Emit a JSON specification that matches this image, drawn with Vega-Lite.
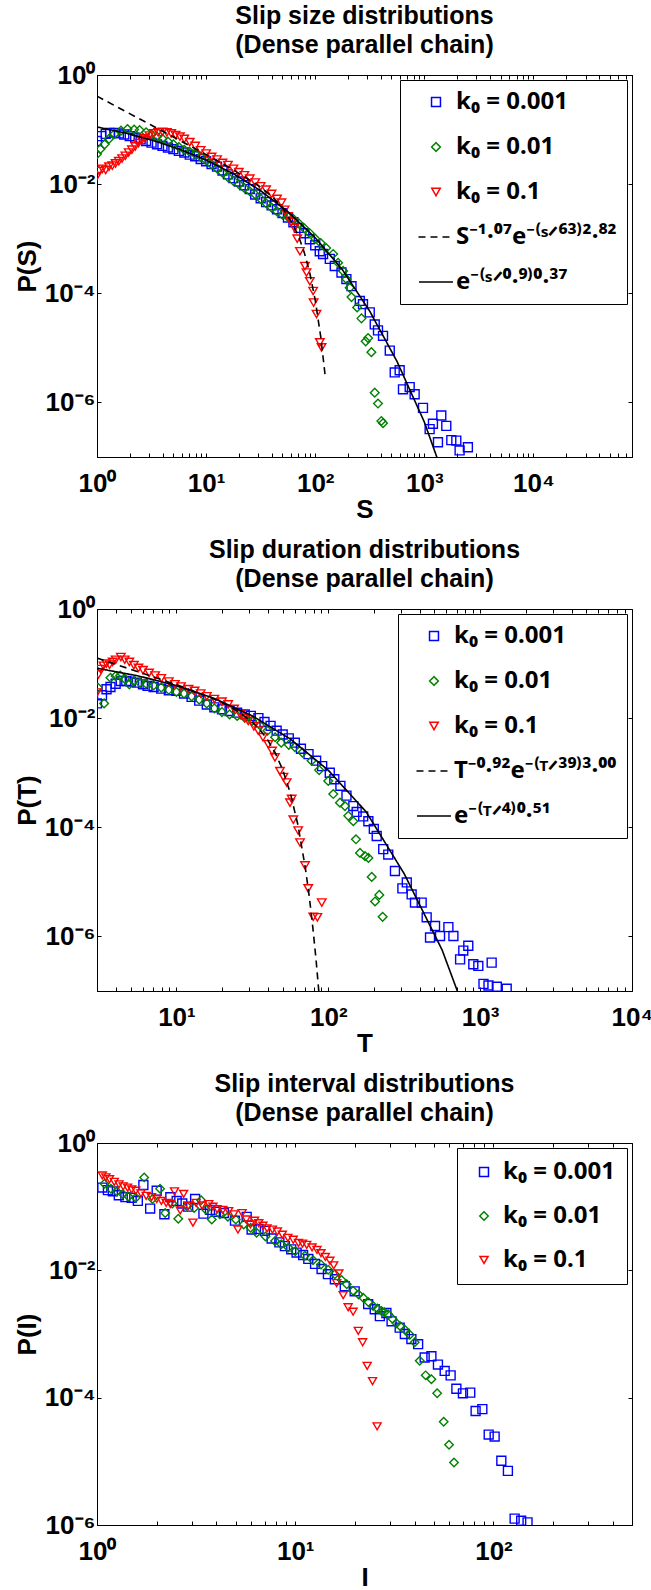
{
"$schema": "https://vega.github.io/schema/vega-lite/v6.json",
"background": "white",
"padding": {"left": 13, "right": 0, "top": 3, "bottom": 0},
"spacing": 14,
"resolve": {"scale": {"color": "independent", "shape": "independent", "size": "independent", "strokeDash": "independent"}},
"config": {
  "font": "Liberation Sans",
  "view": {"stroke": "#000", "strokeWidth": 1},
  "title": {"fontSize": 25, "font": "Liberation Sans", "fontWeight": "bold", "color": "#000", "lineHeight": 29, "offset": 4},
  "axis": {"labelFont": "Liberation Sans", "labelFontSize": 26, "labelFontWeight": "bold", "labelColor": "#000", "titleFont": "Liberation Sans", "titleFontSize": 26, "titleFontWeight": "bold", "titleColor": "#000", "domainColor": "#000", "tickColor": "#000", "grid": false, "labelFlush": false, "labelOverlap": false, "tickSize": -4},
  "axisX": {"labelPadding": 17, "titlePadding": 0},
  "axisY": {"labelPadding": 6, "titlePadding": 4},
  "legend": {"labelFont": "Noto Sans", "labelFontSize": 24, "labelFontWeight": "bold", "labelColor": "#000", "strokeColor": "#000", "fillColor": "#fff", "padding": 10, "rowPadding": 21, "labelOffset": 8, "symbolOffset": 14, "symbolSize": 80, "symbolStrokeWidth": 1.5, "orient": "top-right", "offset": 5, "labelLimit": 400}
},
"datasets": {
"p1pts": [
{"k":"k₀ = 0.001","S":1,"P":0.0617},{"k":"k₀ = 0.001","S":1.096,"P":0.0759},{"k":"k₀ = 0.001","S":1.202,"P":0.0832},{"k":"k₀ = 0.001","S":1.318,"P":0.0871},{"k":"k₀ = 0.001","S":1.445,"P":0.0871},{"k":"k₀ = 0.001","S":1.585,"P":0.0851},{"k":"k₀ = 0.001","S":1.778,"P":0.0813},{"k":"k₀ = 0.001","S":1.995,"P":0.0759},{"k":"k₀ = 0.001","S":2.239,"P":0.0708},{"k":"k₀ = 0.001","S":2.512,"P":0.0661},{"k":"k₀ = 0.001","S":2.818,"P":0.0617},{"k":"k₀ = 0.001","S":3.162,"P":0.0575},{"k":"k₀ = 0.001","S":3.548,"P":0.0537},{"k":"k₀ = 0.001","S":3.981,"P":0.0501},{"k":"k₀ = 0.001","S":4.467,"P":0.0468},{"k":"k₀ = 0.001","S":5.012,"P":0.0437},{"k":"k₀ = 0.001","S":5.623,"P":0.0407},{"k":"k₀ = 0.001","S":6.31,"P":0.038},{"k":"k₀ = 0.001","S":7.079,"P":0.0347},{"k":"k₀ = 0.001","S":7.943,"P":0.0324},{"k":"k₀ = 0.001","S":8.913,"P":0.0288},{"k":"k₀ = 0.001","S":10,"P":0.0263},{"k":"k₀ = 0.001","S":11.22,"P":0.0234},{"k":"k₀ = 0.001","S":12.59,"P":0.0209},{"k":"k₀ = 0.001","S":14.13,"P":0.0178},{"k":"k₀ = 0.001","S":15.85,"P":0.0151},{"k":"k₀ = 0.001","S":17.78,"P":0.0129},{"k":"k₀ = 0.001","S":19.95,"P":0.0112},{"k":"k₀ = 0.001","S":22.39,"P":0.00955},{"k":"k₀ = 0.001","S":25.12,"P":0.00813},{"k":"k₀ = 0.001","S":28.18,"P":0.00646},{"k":"k₀ = 0.001","S":31.62,"P":0.0055},{"k":"k₀ = 0.001","S":35.48,"P":0.00468},{"k":"k₀ = 0.001","S":39.81,"P":0.00407},{"k":"k₀ = 0.001","S":44.67,"P":0.00347},{"k":"k₀ = 0.001","S":50.12,"P":0.00295},{"k":"k₀ = 0.001","S":56.23,"P":0.00245},{"k":"k₀ = 0.001","S":63.1,"P":0.002},{"k":"k₀ = 0.001","S":70.79,"P":0.00158},{"k":"k₀ = 0.001","S":79.43,"P":0.00126},{"k":"k₀ = 0.001","S":89.13,"P":0.000977},{"k":"k₀ = 0.001","S":100,"P":0.000759},{"k":"k₀ = 0.001","S":110,"P":0.000589},{"k":"k₀ = 0.001","S":118,"P":0.000525},{"k":"k₀ = 0.001","S":136,"P":0.000427},{"k":"k₀ = 0.001","S":151,"P":0.000316},{"k":"k₀ = 0.001","S":174,"P":0.00024},{"k":"k₀ = 0.001","S":193,"P":0.000182},{"k":"k₀ = 0.001","S":215,"P":0.000135},{"k":"k₀ = 0.001","S":256,"P":7.24e-5},{"k":"k₀ = 0.001","S":274,"P":6.31e-5},{"k":"k₀ = 0.001","S":316,"P":4.47e-5},{"k":"k₀ = 0.001","S":351,"P":2.69e-5},{"k":"k₀ = 0.001","S":376,"P":2.09e-5},{"k":"k₀ = 0.001","S":418,"P":1.66e-5},{"k":"k₀ = 0.001","S":482,"P":8.91e-6},{"k":"k₀ = 0.001","S":535,"P":3.55e-6},{"k":"k₀ = 0.001","S":594,"P":3.89e-6},{"k":"k₀ = 0.001","S":637,"P":1.74e-6},{"k":"k₀ = 0.001","S":734,"P":1.91e-6},{"k":"k₀ = 0.001","S":815,"P":1.41e-6},{"k":"k₀ = 0.001","S":972,"P":7.94e-7},{"k":"k₀ = 0.001","S":1118,"P":3.24e-7},{"k":"k₀ = 0.001","S":1199,"P":4.07e-7},{"k":"k₀ = 0.001","S":1430,"P":5.75e-7},{"k":"k₀ = 0.001","S":1589,"P":3.72e-7},{"k":"k₀ = 0.001","S":1333,"P":1.86e-7},{"k":"k₀ = 0.001","S":1766,"P":2.04e-7},{"k":"k₀ = 0.001","S":1963,"P":2.0e-7},{"k":"k₀ = 0.001","S":2104,"P":1.32e-7},{"k":"k₀ = 0.001","S":2507,"P":1.51e-7},
{"k":"k₀ = 0.01","S":1,"P":0.0355},{"k":"k₀ = 0.01","S":1.072,"P":0.0437},{"k":"k₀ = 0.01","S":1.175,"P":0.0537},{"k":"k₀ = 0.01","S":1.288,"P":0.0676},{"k":"k₀ = 0.01","S":1.445,"P":0.0832},{"k":"k₀ = 0.01","S":1.66,"P":0.0955},{"k":"k₀ = 0.01","S":1.905,"P":0.102},{"k":"k₀ = 0.01","S":2.188,"P":0.1},{"k":"k₀ = 0.01","S":2.455,"P":0.0977},{"k":"k₀ = 0.01","S":2.818,"P":0.0891},{"k":"k₀ = 0.01","S":3.162,"P":0.0813},{"k":"k₀ = 0.01","S":3.548,"P":0.0741},{"k":"k₀ = 0.01","S":3.981,"P":0.0676},{"k":"k₀ = 0.01","S":4.467,"P":0.0603},{"k":"k₀ = 0.01","S":5.012,"P":0.0537},{"k":"k₀ = 0.01","S":5.623,"P":0.0479},{"k":"k₀ = 0.01","S":6.31,"P":0.0427},{"k":"k₀ = 0.01","S":7.079,"P":0.0389},{"k":"k₀ = 0.01","S":7.943,"P":0.0355},{"k":"k₀ = 0.01","S":8.913,"P":0.0316},{"k":"k₀ = 0.01","S":10,"P":0.0275},{"k":"k₀ = 0.01","S":11.22,"P":0.0229},{"k":"k₀ = 0.01","S":12.59,"P":0.0195},{"k":"k₀ = 0.01","S":14.13,"P":0.0162},{"k":"k₀ = 0.01","S":15.85,"P":0.0135},{"k":"k₀ = 0.01","S":17.78,"P":0.0115},{"k":"k₀ = 0.01","S":19.95,"P":0.01},{"k":"k₀ = 0.01","S":22.39,"P":0.00851},{"k":"k₀ = 0.01","S":25.12,"P":0.00741},{"k":"k₀ = 0.01","S":28.18,"P":0.00646},{"k":"k₀ = 0.01","S":31.62,"P":0.00537},{"k":"k₀ = 0.01","S":35.48,"P":0.00447},{"k":"k₀ = 0.01","S":39.81,"P":0.00372},{"k":"k₀ = 0.01","S":44.67,"P":0.00316},{"k":"k₀ = 0.01","S":50.12,"P":0.00275},{"k":"k₀ = 0.01","S":56.23,"P":0.00251},{"k":"k₀ = 0.01","S":63.1,"P":0.00229},{"k":"k₀ = 0.01","S":70.79,"P":0.00191},{"k":"k₀ = 0.01","S":79.43,"P":0.00155},{"k":"k₀ = 0.01","S":89.13,"P":0.00126},{"k":"k₀ = 0.01","S":100,"P":0.001},{"k":"k₀ = 0.01","S":112.2,"P":0.000832},{"k":"k₀ = 0.01","S":125.9,"P":0.000676},{"k":"k₀ = 0.01","S":146,"P":0.000525},{"k":"k₀ = 0.01","S":162,"P":0.000363},{"k":"k₀ = 0.01","S":180,"P":0.000257},{"k":"k₀ = 0.01","S":193,"P":0.000182},{"k":"k₀ = 0.01","S":207,"P":0.000126},{"k":"k₀ = 0.01","S":215,"P":8.51e-5},{"k":"k₀ = 0.01","S":242,"P":5.5e-5},{"k":"k₀ = 0.01","S":265,"P":3.47e-5},{"k":"k₀ = 0.01","S":290,"P":1.32e-5},{"k":"k₀ = 0.01","S":305,"P":1.51e-5},{"k":"k₀ = 0.01","S":327,"P":8.32e-6},{"k":"k₀ = 0.01","S":351,"P":1.51e-6},{"k":"k₀ = 0.01","S":376,"P":9.55e-7},{"k":"k₀ = 0.01","S":404,"P":4.57e-7},{"k":"k₀ = 0.01","S":418,"P":4.17e-7},
{"k":"k₀ = 0.1","S":1,"P":0.0141},{"k":"k₀ = 0.1","S":1.047,"P":0.0174},{"k":"k₀ = 0.1","S":1.122,"P":0.0191},{"k":"k₀ = 0.1","S":1.202,"P":0.0182},{"k":"k₀ = 0.1","S":1.288,"P":0.0209},{"k":"k₀ = 0.1","S":1.38,"P":0.0219},{"k":"k₀ = 0.1","S":1.479,"P":0.024},{"k":"k₀ = 0.1","S":1.585,"P":0.0263},{"k":"k₀ = 0.1","S":1.698,"P":0.0295},{"k":"k₀ = 0.1","S":1.82,"P":0.0331},{"k":"k₀ = 0.1","S":1.95,"P":0.038},{"k":"k₀ = 0.1","S":2.089,"P":0.0427},{"k":"k₀ = 0.1","S":2.239,"P":0.049},{"k":"k₀ = 0.1","S":2.399,"P":0.0562},{"k":"k₀ = 0.1","S":2.57,"P":0.0631},{"k":"k₀ = 0.1","S":2.754,"P":0.0692},{"k":"k₀ = 0.1","S":3.02,"P":0.0776},{"k":"k₀ = 0.1","S":3.311,"P":0.0851},{"k":"k₀ = 0.1","S":3.631,"P":0.0891},{"k":"k₀ = 0.1","S":3.981,"P":0.0912},{"k":"k₀ = 0.1","S":4.365,"P":0.0891},{"k":"k₀ = 0.1","S":4.786,"P":0.0851},{"k":"k₀ = 0.1","S":5.248,"P":0.0794},{"k":"k₀ = 0.1","S":5.754,"P":0.0741},{"k":"k₀ = 0.1","S":6.31,"P":0.0676},{"k":"k₀ = 0.1","S":7.079,"P":0.0589},{"k":"k₀ = 0.1","S":7.943,"P":0.0501},{"k":"k₀ = 0.1","S":8.913,"P":0.0417},{"k":"k₀ = 0.1","S":10,"P":0.0363},{"k":"k₀ = 0.1","S":11.22,"P":0.0316},{"k":"k₀ = 0.1","S":12.59,"P":0.0282},{"k":"k₀ = 0.1","S":14.13,"P":0.0245},{"k":"k₀ = 0.1","S":15.85,"P":0.0224},{"k":"k₀ = 0.1","S":17.78,"P":0.0191},{"k":"k₀ = 0.1","S":19.95,"P":0.0166},{"k":"k₀ = 0.1","S":22.39,"P":0.0145},{"k":"k₀ = 0.1","S":25.12,"P":0.0126},{"k":"k₀ = 0.1","S":28.18,"P":0.0107},{"k":"k₀ = 0.1","S":31.62,"P":0.00912},{"k":"k₀ = 0.1","S":35.48,"P":0.00794},{"k":"k₀ = 0.1","S":39.81,"P":0.00661},{"k":"k₀ = 0.1","S":44.67,"P":0.00537},{"k":"k₀ = 0.1","S":48.98,"P":0.00457},{"k":"k₀ = 0.1","S":52.48,"P":0.00339},{"k":"k₀ = 0.1","S":56.23,"P":0.00257},{"k":"k₀ = 0.1","S":60.26,"P":0.002},{"k":"k₀ = 0.1","S":64.57,"P":0.00158},{"k":"k₀ = 0.1","S":68.4,"P":0.001},{"k":"k₀ = 0.1","S":72.4,"P":0.000589},{"k":"k₀ = 0.1","S":80.4,"P":0.000316},{"k":"k₀ = 0.1","S":83.2,"P":0.00024},{"k":"k₀ = 0.1","S":89.3,"P":0.000166},{"k":"k₀ = 0.1","S":95.7,"P":0.00011},{"k":"k₀ = 0.1","S":96.6,"P":6.76e-5},{"k":"k₀ = 0.1","S":102.8,"P":4.17e-5},{"k":"k₀ = 0.1","S":110.2,"P":1.26e-5},{"k":"k₀ = 0.1","S":114.3,"P":1.02e-5}
],
"p1fit": [
{"k":"S⁻¹·⁰⁷e⁻⁽ˢᐟ⁶³⁾²·⁸²","S":1,"P":0.41},{"k":"S⁻¹·⁰⁷e⁻⁽ˢᐟ⁶³⁾²·⁸²","S":1.778,"P":0.221},{"k":"S⁻¹·⁰⁷e⁻⁽ˢᐟ⁶³⁾²·⁸²","S":3.162,"P":0.12},{"k":"S⁻¹·⁰⁷e⁻⁽ˢᐟ⁶³⁾²·⁸²","S":5.623,"P":0.0646},{"k":"S⁻¹·⁰⁷e⁻⁽ˢᐟ⁶³⁾²·⁸²","S":10,"P":0.0348},{"k":"S⁻¹·⁰⁷e⁻⁽ˢᐟ⁶³⁾²·⁸²","S":17.78,"P":0.0183},{"k":"S⁻¹·⁰⁷e⁻⁽ˢᐟ⁶³⁾²·⁸²","S":31.62,"P":0.00883},{"k":"S⁻¹·⁰⁷e⁻⁽ˢᐟ⁶³⁾²·⁸²","S":39.81,"P":0.00605},{"k":"S⁻¹·⁰⁷e⁻⁽ˢᐟ⁶³⁾²·⁸²","S":50.12,"P":0.00368},{"k":"S⁻¹·⁰⁷e⁻⁽ˢᐟ⁶³⁾²·⁸²","S":63.1,"P":0.00178},{"k":"S⁻¹·⁰⁷e⁻⁽ˢᐟ⁶³⁾²·⁸²","S":70.79,"P":0.00107},{"k":"S⁻¹·⁰⁷e⁻⁽ˢᐟ⁶³⁾²·⁸²","S":79.43,"P":0.000556},{"k":"S⁻¹·⁰⁷e⁻⁽ˢᐟ⁶³⁾²·⁸²","S":89.13,"P":0.000235},{"k":"S⁻¹·⁰⁷e⁻⁽ˢᐟ⁶³⁾²·⁸²","S":100,"P":7.5e-5},{"k":"S⁻¹·⁰⁷e⁻⁽ˢᐟ⁶³⁾²·⁸²","S":112.2,"P":1.62e-5},{"k":"S⁻¹·⁰⁷e⁻⁽ˢᐟ⁶³⁾²·⁸²","S":123,"P":3.24e-6},
{"k":"e⁻⁽ˢᐟ⁰·⁹⁾⁰·³⁷","S":1,"P":0.1117},{"k":"e⁻⁽ˢᐟ⁰·⁹⁾⁰·³⁷","S":1.778,"P":0.0873},{"k":"e⁻⁽ˢᐟ⁰·⁹⁾⁰·³⁷","S":3.162,"P":0.0644},{"k":"e⁻⁽ˢᐟ⁰·⁹⁾⁰·³⁷","S":5.623,"P":0.0441},{"k":"e⁻⁽ˢᐟ⁰·⁹⁾⁰·³⁷","S":10,"P":0.0276},{"k":"e⁻⁽ˢᐟ⁰·⁹⁾⁰·³⁷","S":17.78,"P":0.0155},{"k":"e⁻⁽ˢᐟ⁰·⁹⁾⁰·³⁷","S":31.62,"P":0.00757},{"k":"e⁻⁽ˢᐟ⁰·⁹⁾⁰·³⁷","S":56.23,"P":0.00312},{"k":"e⁻⁽ˢᐟ⁰·⁹⁾⁰·³⁷","S":100,"P":0.00104},{"k":"e⁻⁽ˢᐟ⁰·⁹⁾⁰·³⁷","S":177.8,"P":0.000269},{"k":"e⁻⁽ˢᐟ⁰·⁹⁾⁰·³⁷","S":316.2,"P":4.68e-5},{"k":"e⁻⁽ˢᐟ⁰·⁹⁾⁰·³⁷","S":562.3,"P":5.62e-6},{"k":"e⁻⁽ˢᐟ⁰·⁹⁾⁰·³⁷","S":1000,"P":4.37e-7},{"k":"e⁻⁽ˢᐟ⁰·⁹⁾⁰·³⁷","S":1259,"P":1.2e-7},{"k":"e⁻⁽ˢᐟ⁰·⁹⁾⁰·³⁷","S":1413,"P":6.3e-8}
],
"p2pts": [
{"k":"k₀ = 0.001","T":3,"P":0.0186},{"k":"k₀ = 0.001","T":3.236,"P":0.0263},{"k":"k₀ = 0.001","T":3.467,"P":0.0339},{"k":"k₀ = 0.001","T":3.68,"P":0.0372},{"k":"k₀ = 0.001","T":3.981,"P":0.0427},{"k":"k₀ = 0.001","T":4.305,"P":0.0479},{"k":"k₀ = 0.001","T":4.677,"P":0.0479},{"k":"k₀ = 0.001","T":5.012,"P":0.0468},{"k":"k₀ = 0.001","T":5.495,"P":0.0447},{"k":"k₀ = 0.001","T":6.026,"P":0.0417},{"k":"k₀ = 0.001","T":6.457,"P":0.0389},{"k":"k₀ = 0.001","T":7.079,"P":0.0372},{"k":"k₀ = 0.001","T":7.943,"P":0.0347},{"k":"k₀ = 0.001","T":8.913,"P":0.0324},{"k":"k₀ = 0.001","T":10,"P":0.0316},{"k":"k₀ = 0.001","T":11.22,"P":0.0282},{"k":"k₀ = 0.001","T":12.59,"P":0.0245},{"k":"k₀ = 0.001","T":14.13,"P":0.0209},{"k":"k₀ = 0.001","T":15.85,"P":0.0178},{"k":"k₀ = 0.001","T":17.78,"P":0.0158},{"k":"k₀ = 0.001","T":19.95,"P":0.0145},{"k":"k₀ = 0.001","T":22.39,"P":0.0135},{"k":"k₀ = 0.001","T":25.12,"P":0.0126},{"k":"k₀ = 0.001","T":28.18,"P":0.0117},{"k":"k₀ = 0.001","T":30.9,"P":0.011},{"k":"k₀ = 0.001","T":34.67,"P":0.01},{"k":"k₀ = 0.001","T":38.02,"P":0.00851},{"k":"k₀ = 0.001","T":41.69,"P":0.00724},{"k":"k₀ = 0.001","T":45.71,"P":0.00589},{"k":"k₀ = 0.001","T":50.12,"P":0.00501},{"k":"k₀ = 0.001","T":54.95,"P":0.00427},{"k":"k₀ = 0.001","T":60.26,"P":0.00355},{"k":"k₀ = 0.001","T":66.07,"P":0.00275},{"k":"k₀ = 0.001","T":74.13,"P":0.00219},{"k":"k₀ = 0.001","T":83.18,"P":0.00166},{"k":"k₀ = 0.001","T":91.2,"P":0.00132},{"k":"k₀ = 0.001","T":102.3,"P":0.001},{"k":"k₀ = 0.001","T":109.6,"P":0.000759},{"k":"k₀ = 0.001","T":120.2,"P":0.000575},{"k":"k₀ = 0.001","T":131.8,"P":0.00038},{"k":"k₀ = 0.001","T":146.2,"P":0.000245},{"k":"k₀ = 0.001","T":153.8,"P":0.000191},{"k":"k₀ = 0.001","T":169.8,"P":0.000158},{"k":"k₀ = 0.001","T":183.7,"P":0.000129},{"k":"k₀ = 0.001","T":199.5,"P":9.33e-5},{"k":"k₀ = 0.001","T":208.4,"P":6.92e-5},{"k":"k₀ = 0.001","T":230.1,"P":3.98e-5},{"k":"k₀ = 0.001","T":248.3,"P":3.16e-5},{"k":"k₀ = 0.001","T":274.8,"P":1.58e-5},{"k":"k₀ = 0.001","T":307.6,"P":7.59e-6},{"k":"k₀ = 0.001","T":328.9,"P":9.77e-6},{"k":"k₀ = 0.001","T":354,"P":5.89e-6},{"k":"k₀ = 0.001","T":372.4,"P":4.17e-6},{"k":"k₀ = 0.001","T":412.1,"P":4.17e-6},{"k":"k₀ = 0.001","T":444.6,"P":2.24e-6},{"k":"k₀ = 0.001","T":467.7,"P":9.55e-7},{"k":"k₀ = 0.001","T":504.7,"P":1.55e-6},{"k":"k₀ = 0.001","T":544.5,"P":1.02e-6},{"k":"k₀ = 0.001","T":618,"P":1.48e-6},{"k":"k₀ = 0.001","T":666.8,"P":1.02e-6},{"k":"k₀ = 0.001","T":737.9,"P":3.8e-7},{"k":"k₀ = 0.001","T":774.5,"P":5.5e-7},{"k":"k₀ = 0.001","T":835.6,"P":6.76e-7},{"k":"k₀ = 0.001","T":901.6,"P":3.09e-7},{"k":"k₀ = 0.001","T":972.7,"P":2.88e-7},{"k":"k₀ = 0.001","T":1052,"P":1.35e-7},{"k":"k₀ = 0.001","T":1135,"P":1.26e-7},{"k":"k₀ = 0.001","T":1191,"P":3.31e-7},{"k":"k₀ = 0.001","T":1288,"P":1.2e-7},{"k":"k₀ = 0.001","T":1496,"P":1.1e-7},
{"k":"k₀ = 0.01","T":3.041,"P":0.0363},{"k":"k₀ = 0.01","T":3.342,"P":0.0186},{"k":"k₀ = 0.01","T":3.68,"P":0.055},{"k":"k₀ = 0.01","T":3.981,"P":0.0589},{"k":"k₀ = 0.01","T":4.266,"P":0.0603},{"k":"k₀ = 0.01","T":4.571,"P":0.0525},{"k":"k₀ = 0.01","T":4.898,"P":0.0417},{"k":"k₀ = 0.01","T":5.248,"P":0.0479},{"k":"k₀ = 0.01","T":5.754,"P":0.0447},{"k":"k₀ = 0.01","T":6.31,"P":0.0427},{"k":"k₀ = 0.01","T":7.079,"P":0.0398},{"k":"k₀ = 0.01","T":7.943,"P":0.0363},{"k":"k₀ = 0.01","T":8.913,"P":0.0331},{"k":"k₀ = 0.01","T":10,"P":0.0302},{"k":"k₀ = 0.01","T":11.22,"P":0.0282},{"k":"k₀ = 0.01","T":12.59,"P":0.0251},{"k":"k₀ = 0.01","T":14.13,"P":0.0219},{"k":"k₀ = 0.01","T":15.85,"P":0.0186},{"k":"k₀ = 0.01","T":17.78,"P":0.0151},{"k":"k₀ = 0.01","T":19.95,"P":0.0129},{"k":"k₀ = 0.01","T":22.39,"P":0.0117},{"k":"k₀ = 0.01","T":25.12,"P":0.011},{"k":"k₀ = 0.01","T":28.18,"P":0.0102},{"k":"k₀ = 0.01","T":31.62,"P":0.00891},{"k":"k₀ = 0.01","T":35.48,"P":0.00741},{"k":"k₀ = 0.01","T":39.81,"P":0.00589},{"k":"k₀ = 0.01","T":44.67,"P":0.00447},{"k":"k₀ = 0.01","T":48.98,"P":0.00355},{"k":"k₀ = 0.01","T":54.95,"P":0.00324},{"k":"k₀ = 0.01","T":60.26,"P":0.00295},{"k":"k₀ = 0.01","T":67.61,"P":0.00234},{"k":"k₀ = 0.01","T":77.62,"P":0.00166},{"k":"k₀ = 0.01","T":87.1,"P":0.00112},{"k":"k₀ = 0.01","T":100,"P":0.000708},{"k":"k₀ = 0.01","T":107.9,"P":0.000407},{"k":"k₀ = 0.01","T":119.4,"P":0.000282},{"k":"k₀ = 0.01","T":128.8,"P":0.000245},{"k":"k₀ = 0.01","T":135.5,"P":0.000162},{"k":"k₀ = 0.01","T":146.2,"P":0.000129},{"k":"k₀ = 0.01","T":152.1,"P":6.03e-5},{"k":"k₀ = 0.01","T":161.8,"P":3.39e-5},{"k":"k₀ = 0.01","T":174.6,"P":2.95e-5},{"k":"k₀ = 0.01","T":183.7,"P":2.75e-5},{"k":"k₀ = 0.01","T":193.2,"P":1.23e-5},{"k":"k₀ = 0.01","T":203.2,"P":4.37e-6},{"k":"k₀ = 0.01","T":216.8,"P":5.75e-6},{"k":"k₀ = 0.01","T":228,"P":2.29e-6},
{"k":"k₀ = 0.1","T":3,"P":0.0295},{"k":"k₀ = 0.1","T":3.069,"P":0.0631},{"k":"k₀ = 0.1","T":3.162,"P":0.0794},{"k":"k₀ = 0.1","T":3.311,"P":0.0912},{"k":"k₀ = 0.1","T":3.459,"P":0.1},{"k":"k₀ = 0.1","T":3.631,"P":0.0955},{"k":"k₀ = 0.1","T":3.802,"P":0.107},{"k":"k₀ = 0.1","T":3.981,"P":0.1175},{"k":"k₀ = 0.1","T":4.305,"P":0.1318},{"k":"k₀ = 0.1","T":4.571,"P":0.1175},{"k":"k₀ = 0.1","T":4.898,"P":0.107},{"k":"k₀ = 0.1","T":5.248,"P":0.0933},{"k":"k₀ = 0.1","T":5.623,"P":0.0832},{"k":"k₀ = 0.1","T":6.026,"P":0.0759},{"k":"k₀ = 0.1","T":6.607,"P":0.0676},{"k":"k₀ = 0.1","T":7.244,"P":0.0603},{"k":"k₀ = 0.1","T":7.943,"P":0.0537},{"k":"k₀ = 0.1","T":8.913,"P":0.0468},{"k":"k₀ = 0.1","T":9.772,"P":0.0417},{"k":"k₀ = 0.1","T":10.72,"P":0.038},{"k":"k₀ = 0.1","T":12.02,"P":0.0339},{"k":"k₀ = 0.1","T":13.18,"P":0.0316},{"k":"k₀ = 0.1","T":14.45,"P":0.0282},{"k":"k₀ = 0.1","T":15.85,"P":0.0251},{"k":"k₀ = 0.1","T":17.78,"P":0.0224},{"k":"k₀ = 0.1","T":19.95,"P":0.02},{"k":"k₀ = 0.1","T":21.93,"P":0.0178},{"k":"k₀ = 0.1","T":23.99,"P":0.0148},{"k":"k₀ = 0.1","T":26.3,"P":0.0117},{"k":"k₀ = 0.1","T":28.18,"P":0.01},{"k":"k₀ = 0.1","T":29.72,"P":0.00891},{"k":"k₀ = 0.1","T":32.36,"P":0.00708},{"k":"k₀ = 0.1","T":34.59,"P":0.00589},{"k":"k₀ = 0.1","T":37.15,"P":0.00447},{"k":"k₀ = 0.1","T":40.27,"P":0.00331},{"k":"k₀ = 0.1","T":42.66,"P":0.00251},{"k":"k₀ = 0.1","T":44.57,"P":0.00191},{"k":"k₀ = 0.1","T":48.08,"P":0.00107},{"k":"k₀ = 0.1","T":50.7,"P":0.000832},{"k":"k₀ = 0.1","T":53.21,"P":0.000661},{"k":"k₀ = 0.1","T":55.98,"P":0.000282},{"k":"k₀ = 0.1","T":57.41,"P":0.000331},{"k":"k₀ = 0.1","T":58.88,"P":0.000138},{"k":"k₀ = 0.1","T":63.39,"P":8.71e-5},{"k":"k₀ = 0.1","T":65.16,"P":5.25e-5},{"k":"k₀ = 0.1","T":70.31,"P":2.0e-5},{"k":"k₀ = 0.1","T":73.79,"P":7.59e-6},{"k":"k₀ = 0.1","T":79.62,"P":2.29e-6},{"k":"k₀ = 0.1","T":84.72,"P":2.24e-6},{"k":"k₀ = 0.1","T":90.57,"P":4.17e-6}
],
"p2fit": [
{"k":"T⁻⁰·⁹²e⁻⁽ᵀᐟ³⁹⁾³·⁰⁰","T":3,"P":0.1259},{"k":"T⁻⁰·⁹²e⁻⁽ᵀᐟ³⁹⁾³·⁰⁰","T":5.623,"P":0.0705},{"k":"T⁻⁰·⁹²e⁻⁽ᵀᐟ³⁹⁾³·⁰⁰","T":10,"P":0.0409},{"k":"T⁻⁰·⁹²e⁻⁽ᵀᐟ³⁹⁾³·⁰⁰","T":17.78,"P":0.0223},{"k":"T⁻⁰·⁹²e⁻⁽ᵀᐟ³⁹⁾³·⁰⁰","T":19.95,"P":0.0193},{"k":"T⁻⁰·⁹²e⁻⁽ᵀᐟ³⁹⁾³·⁰⁰","T":25.12,"P":0.01365},{"k":"T⁻⁰·⁹²e⁻⁽ᵀᐟ³⁹⁾³·⁰⁰","T":31.62,"P":0.00845},{"k":"T⁻⁰·⁹²e⁻⁽ᵀᐟ³⁹⁾³·⁰⁰","T":35.48,"P":0.00611},{"k":"T⁻⁰·⁹²e⁻⁽ᵀᐟ³⁹⁾³·⁰⁰","T":39.81,"P":0.00403},{"k":"T⁻⁰·⁹²e⁻⁽ᵀᐟ³⁹⁾³·⁰⁰","T":44.67,"P":0.00233},{"k":"T⁻⁰·⁹²e⁻⁽ᵀᐟ³⁹⁾³·⁰⁰","T":50.12,"P":0.00113},{"k":"T⁻⁰·⁹²e⁻⁽ᵀᐟ³⁹⁾³·⁰⁰","T":56.23,"P":0.000424},{"k":"T⁻⁰·⁹²e⁻⁽ᵀᐟ³⁹⁾³·⁰⁰","T":63.1,"P":0.000111},{"k":"T⁻⁰·⁹²e⁻⁽ᵀᐟ³⁹⁾³·⁰⁰","T":70.79,"P":1.73e-5},{"k":"T⁻⁰·⁹²e⁻⁽ᵀᐟ³⁹⁾³·⁰⁰","T":74.99,"P":5.33e-6},{"k":"T⁻⁰·⁹²e⁻⁽ᵀᐟ³⁹⁾³·⁰⁰","T":79.43,"P":1.32e-6},{"k":"T⁻⁰·⁹²e⁻⁽ᵀᐟ³⁹⁾³·⁰⁰","T":83.18,"P":3.62e-7},{"k":"T⁻⁰·⁹²e⁻⁽ᵀᐟ³⁹⁾³·⁰⁰","T":87.1,"P":8.3e-8},
{"k":"e⁻⁽ᵀᐟ⁴⁾⁰·⁵¹","T":3,"P":0.0822},{"k":"e⁻⁽ᵀᐟ⁴⁾⁰·⁵¹","T":5.623,"P":0.0593},{"k":"e⁻⁽ᵀᐟ⁴⁾⁰·⁵¹","T":10,"P":0.0395},{"k":"e⁻⁽ᵀᐟ⁴⁾⁰·⁵¹","T":17.78,"P":0.0229},{"k":"e⁻⁽ᵀᐟ⁴⁾⁰·⁵¹","T":31.62,"P":0.011},{"k":"e⁻⁽ᵀᐟ⁴⁾⁰·⁵¹","T":56.23,"P":0.00415},{"k":"e⁻⁽ᵀᐟ⁴⁾⁰·⁵¹","T":100,"P":0.00111},{"k":"e⁻⁽ᵀᐟ⁴⁾⁰·⁵¹","T":177.8,"P":0.000191},{"k":"e⁻⁽ᵀᐟ⁴⁾⁰·⁵¹","T":316.2,"P":1.41e-5},{"k":"e⁻⁽ᵀᐟ⁴⁾⁰·⁵¹","T":562.3,"P":5.62e-7},{"k":"e⁻⁽ᵀᐟ⁴⁾⁰·⁵¹","T":707.9,"P":1e-7},{"k":"e⁻⁽ᵀᐟ⁴⁾⁰·⁵¹","T":794.3,"P":5e-8}
],
"p3pts": [
{"k":"k₀ = 0.001","I":1.064,"P":0.1995},{"k":"k₀ = 0.001","I":1.135,"P":0.182},{"k":"k₀ = 0.001","I":1.202,"P":0.174},{"k":"k₀ = 0.001","I":1.288,"P":0.151},{"k":"k₀ = 0.001","I":1.39,"P":0.141},{"k":"k₀ = 0.001","I":1.496,"P":0.138},{"k":"k₀ = 0.001","I":1.607,"P":0.123},{"k":"k₀ = 0.001","I":1.714,"P":0.219},{"k":"k₀ = 0.001","I":1.854,"P":0.0933},{"k":"k₀ = 0.001","I":2.0,"P":0.178},{"k":"k₀ = 0.001","I":2.188,"P":0.0759},{"k":"k₀ = 0.001","I":2.344,"P":0.141},{"k":"k₀ = 0.001","I":2.523,"P":0.123},{"k":"k₀ = 0.001","I":2.692,"P":0.112},{"k":"k₀ = 0.001","I":2.884,"P":0.1},{"k":"k₀ = 0.001","I":3.126,"P":0.132},{"k":"k₀ = 0.001","I":3.443,"P":0.0776},{"k":"k₀ = 0.001","I":3.715,"P":0.0891},{"k":"k₀ = 0.001","I":3.981,"P":0.0832},{"k":"k₀ = 0.001","I":4.365,"P":0.0794},{"k":"k₀ = 0.001","I":4.966,"P":0.0603},{"k":"k₀ = 0.001","I":5.689,"P":0.0692},{"k":"k₀ = 0.001","I":6.026,"P":0.0437},{"k":"k₀ = 0.001","I":6.531,"P":0.0447},{"k":"k₀ = 0.001","I":7.031,"P":0.0417},{"k":"k₀ = 0.001","I":7.603,"P":0.0316},{"k":"k₀ = 0.001","I":8.318,"P":0.0275},{"k":"k₀ = 0.001","I":8.872,"P":0.024},{"k":"k₀ = 0.001","I":9.55,"P":0.0214},{"k":"k₀ = 0.001","I":10.16,"P":0.019},{"k":"k₀ = 0.001","I":10.96,"P":0.0174},{"k":"k₀ = 0.001","I":11.64,"P":0.0151},{"k":"k₀ = 0.001","I":12.59,"P":0.0126},{"k":"k₀ = 0.001","I":13.58,"P":0.0105},{"k":"k₀ = 0.001","I":14.62,"P":0.00871},{"k":"k₀ = 0.001","I":15.85,"P":0.00724},{"k":"k₀ = 0.001","I":17.78,"P":0.00562},{"k":"k₀ = 0.001","I":19.95,"P":0.00468},{"k":"k₀ = 0.001","I":23.33,"P":0.00295},{"k":"k₀ = 0.001","I":25.18,"P":0.00245},{"k":"k₀ = 0.001","I":26.73,"P":0.00191},{"k":"k₀ = 0.001","I":28.84,"P":0.00214},{"k":"k₀ = 0.001","I":30.62,"P":0.00158},{"k":"k₀ = 0.001","I":33.65,"P":0.00126},{"k":"k₀ = 0.001","I":35.73,"P":0.001},{"k":"k₀ = 0.001","I":38.55,"P":0.000832},{"k":"k₀ = 0.001","I":41.69,"P":0.000692},{"k":"k₀ = 0.001","I":44.98,"P":0.000427},{"k":"k₀ = 0.001","I":48.64,"P":0.000447},{"k":"k₀ = 0.001","I":52.48,"P":0.000331},{"k":"k₀ = 0.001","I":56.75,"P":0.000263},{"k":"k₀ = 0.001","I":60.81,"P":0.000224},{"k":"k₀ = 0.001","I":65.01,"P":0.000138},{"k":"k₀ = 0.001","I":70.15,"P":0.000117},{"k":"k₀ = 0.001","I":76.38,"P":0.00012},{"k":"k₀ = 0.001","I":81.28,"P":6.17e-5},{"k":"k₀ = 0.001","I":87.9,"P":6.61e-5},{"k":"k₀ = 0.001","I":94.62,"P":2.63e-5},{"k":"k₀ = 0.001","I":101.4,"P":2.45e-5},{"k":"k₀ = 0.001","I":109.6,"P":1.02e-5},{"k":"k₀ = 0.001","I":118.3,"P":7.08e-6},{"k":"k₀ = 0.001","I":127.9,"P":1.26e-6},{"k":"k₀ = 0.001","I":138,"P":1.17e-6},{"k":"k₀ = 0.001","I":148.6,"P":1.1e-6},
{"k":"k₀ = 0.01","I":1.091,"P":0.2291},{"k":"k₀ = 0.01","I":1.175,"P":0.1905},{"k":"k₀ = 0.01","I":1.259,"P":0.1738},{"k":"k₀ = 0.01","I":1.349,"P":0.1585},{"k":"k₀ = 0.01","I":1.442,"P":0.1445},{"k":"k₀ = 0.01","I":1.57,"P":0.138},{"k":"k₀ = 0.01","I":1.73,"P":0.2884},{"k":"k₀ = 0.01","I":1.905,"P":0.1318},{"k":"k₀ = 0.01","I":2.08,"P":0.1905},{"k":"k₀ = 0.01","I":2.208,"P":0.0794},{"k":"k₀ = 0.01","I":2.399,"P":0.1122},{"k":"k₀ = 0.01","I":2.57,"P":0.0646},{"k":"k₀ = 0.01","I":2.838,"P":0.1023},{"k":"k₀ = 0.01","I":3.09,"P":0.0955},{"k":"k₀ = 0.01","I":3.35,"P":0.1259},{"k":"k₀ = 0.01","I":3.548,"P":0.0891},{"k":"k₀ = 0.01","I":3.793,"P":0.0631},{"k":"k₀ = 0.01","I":4.169,"P":0.0759},{"k":"k₀ = 0.01","I":4.571,"P":0.0692},{"k":"k₀ = 0.01","I":5.012,"P":0.0631},{"k":"k₀ = 0.01","I":5.495,"P":0.0525},{"k":"k₀ = 0.01","I":5.957,"P":0.0468},{"k":"k₀ = 0.01","I":6.383,"P":0.0389},{"k":"k₀ = 0.01","I":7.079,"P":0.0339},{"k":"k₀ = 0.01","I":7.907,"P":0.0288},{"k":"k₀ = 0.01","I":8.511,"P":0.0257},{"k":"k₀ = 0.01","I":9.226,"P":0.0229},{"k":"k₀ = 0.01","I":10,"P":0.01995},{"k":"k₀ = 0.01","I":11.19,"P":0.017},{"k":"k₀ = 0.01","I":12.3,"P":0.01445},{"k":"k₀ = 0.01","I":13.49,"P":0.0123},{"k":"k₀ = 0.01","I":14.66,"P":0.01023},{"k":"k₀ = 0.01","I":15.85,"P":0.00871},{"k":"k₀ = 0.01","I":17.14,"P":0.00708},{"k":"k₀ = 0.01","I":18.2,"P":0.00603},{"k":"k₀ = 0.01","I":19.59,"P":0.00479},{"k":"k₀ = 0.01","I":20.89,"P":0.00417},{"k":"k₀ = 0.01","I":22.03,"P":0.00372},{"k":"k₀ = 0.01","I":23.44,"P":0.00316},{"k":"k₀ = 0.01","I":24.72,"P":0.00275},{"k":"k₀ = 0.01","I":26,"P":0.00251},{"k":"k₀ = 0.01","I":27.23,"P":0.00229},{"k":"k₀ = 0.01","I":28.18,"P":0.00219},{"k":"k₀ = 0.01","I":29.44,"P":0.00204},{"k":"k₀ = 0.01","I":30.9,"P":0.00174},{"k":"k₀ = 0.01","I":32.43,"P":0.00148},{"k":"k₀ = 0.01","I":33.88,"P":0.00132},{"k":"k₀ = 0.01","I":35.73,"P":0.00117},{"k":"k₀ = 0.01","I":37.84,"P":0.000977},{"k":"k₀ = 0.01","I":40.09,"P":0.000741},{"k":"k₀ = 0.01","I":42.46,"P":0.00038},{"k":"k₀ = 0.01","I":45.5,"P":0.000224},{"k":"k₀ = 0.01","I":48.64,"P":0.000195},{"k":"k₀ = 0.01","I":52,"P":0.000117},{"k":"k₀ = 0.01","I":56.1,"P":4.17e-5},{"k":"k₀ = 0.01","I":59.7,"P":1.82e-5},{"k":"k₀ = 0.01","I":63.24,"P":9.55e-6},
{"k":"k₀ = 0.1","I":1.064,"P":0.309},{"k":"k₀ = 0.1","I":1.109,"P":0.2884},{"k":"k₀ = 0.1","I":1.156,"P":0.2692},{"k":"k₀ = 0.1","I":1.222,"P":0.2455},{"k":"k₀ = 0.1","I":1.291,"P":0.2239},{"k":"k₀ = 0.1","I":1.355,"P":0.2089},{"k":"k₀ = 0.1","I":1.426,"P":0.1995},{"k":"k₀ = 0.1","I":1.496,"P":0.1862},{"k":"k₀ = 0.1","I":1.57,"P":0.1778},{"k":"k₀ = 0.1","I":1.667,"P":0.1622},{"k":"k₀ = 0.1","I":1.77,"P":0.1479},{"k":"k₀ = 0.1","I":1.884,"P":0.1413},{"k":"k₀ = 0.1","I":2.0,"P":0.1318},{"k":"k₀ = 0.1","I":2.113,"P":0.123},{"k":"k₀ = 0.1","I":2.234,"P":0.1148},{"k":"k₀ = 0.1","I":2.344,"P":0.1096},{"k":"k₀ = 0.1","I":2.46,"P":0.1738},{"k":"k₀ = 0.1","I":2.63,"P":0.0871},{"k":"k₀ = 0.1","I":2.735,"P":0.1585},{"k":"k₀ = 0.1","I":2.884,"P":0.1023},{"k":"k₀ = 0.1","I":3.048,"P":0.0562},{"k":"k₀ = 0.1","I":3.162,"P":0.1148},{"k":"k₀ = 0.1","I":3.388,"P":0.1047},{"k":"k₀ = 0.1","I":3.664,"P":0.1096},{"k":"k₀ = 0.1","I":3.846,"P":0.1},{"k":"k₀ = 0.1","I":4.036,"P":0.0912},{"k":"k₀ = 0.1","I":4.315,"P":0.0891},{"k":"k₀ = 0.1","I":4.613,"P":0.0851},{"k":"k₀ = 0.1","I":4.898,"P":0.0759},{"k":"k₀ = 0.1","I":5.14,"P":0.0437},{"k":"k₀ = 0.1","I":5.395,"P":0.0794},{"k":"k₀ = 0.1","I":5.662,"P":0.0631},{"k":"k₀ = 0.1","I":5.943,"P":0.0525},{"k":"k₀ = 0.1","I":6.237,"P":0.0603},{"k":"k₀ = 0.1","I":6.546,"P":0.055},{"k":"k₀ = 0.1","I":6.871,"P":0.0501},{"k":"k₀ = 0.1","I":7.211,"P":0.0457},{"k":"k₀ = 0.1","I":7.674,"P":0.0437},{"k":"k₀ = 0.1","I":8.128,"P":0.0407},{"k":"k₀ = 0.1","I":8.61,"P":0.0363},{"k":"k₀ = 0.1","I":9.183,"P":0.0324},{"k":"k₀ = 0.1","I":9.772,"P":0.0302},{"k":"k₀ = 0.1","I":10.38,"P":0.0269},{"k":"k₀ = 0.1","I":10.89,"P":0.0263},{"k":"k₀ = 0.1","I":11.43,"P":0.0251},{"k":"k₀ = 0.1","I":12.16,"P":0.0229},{"k":"k₀ = 0.1","I":12.88,"P":0.0209},{"k":"k₀ = 0.1","I":13.49,"P":0.0186},{"k":"k₀ = 0.1","I":14.19,"P":0.0162},{"k":"k₀ = 0.1","I":14.96,"P":0.01413},{"k":"k₀ = 0.1","I":15.63,"P":0.012},{"k":"k₀ = 0.1","I":16.18,"P":0.00631},{"k":"k₀ = 0.1","I":16.6,"P":0.00891},{"k":"k₀ = 0.1","I":17.46,"P":0.00407},{"k":"k₀ = 0.1","I":18.49,"P":0.00263},{"k":"k₀ = 0.1","I":19.59,"P":0.00224},{"k":"k₀ = 0.1","I":20.8,"P":0.00112},{"k":"k₀ = 0.1","I":21.88,"P":0.000741},{"k":"k₀ = 0.1","I":23.07,"P":0.000316},{"k":"k₀ = 0.1","I":24.55,"P":0.000182},{"k":"k₀ = 0.1","I":25.88,"P":3.55e-5}
]
},
"vconcat": [
{
  "width": 535, "height": 382,
  "title": {"text": ["Slip size distributions", "(Dense parallel chain)"]},
  "resolve": {"axis": {"x": "independent", "y": "independent"}},
  "layer": [
    {
      "data": {"name": "p1pts"},
      "mark": {"type": "point", "filled": false, "strokeWidth": 1.4, "opacity": 1, "clip": true},
      "encoding": {
        "x": {"field": "S", "type": "quantitative", "scale": {"type": "log", "domain": [1, 80000], "nice": false}, "axis": {"title": "S", "values": [1,2,3,4,5,6,7,8,9,10,20,30,40,50,60,70,80,90,100,200,300,400,500,600,700,800,900,1000,2000,3000,4000,5000,6000,7000,8000,9000,10000,20000,30000,40000,50000,60000,70000,80000], "labelExpr": "datum.value==1?'10⁰':datum.value==10?'10¹':datum.value==100?'10²':datum.value==1000?'10³':datum.value==10000?'10⁴':''"}},
        "y": {"field": "P", "type": "quantitative", "scale": {"type": "log", "domain": [1e-7, 1], "nice": false}, "axis": {"title": "P(S)", "values": [1, 0.01, 0.0001, 0.000001], "labelExpr": "datum.value==1?'10⁰':datum.value==0.01?'10⁻²':datum.value==0.0001?'10⁻⁴':'10⁻⁶'"}},
        "color": {"field": "k", "type": "nominal", "scale": {"domain": ["k₀ = 0.001","k₀ = 0.01","k₀ = 0.1","S⁻¹·⁰⁷e⁻⁽ˢᐟ⁶³⁾²·⁸²","e⁻⁽ˢᐟ⁰·⁹⁾⁰·³⁷"], "range": ["#0000ff","#008000","#ff0000","#000000","#000000"]}, "legend": {"title": null}},
        "shape": {"field": "k", "type": "nominal", "scale": {"domain": ["k₀ = 0.001","k₀ = 0.01","k₀ = 0.1","S⁻¹·⁰⁷e⁻⁽ˢᐟ⁶³⁾²·⁸²","e⁻⁽ˢᐟ⁰·⁹⁾⁰·³⁷"], "range": ["square","diamond","triangle-down","M-4.25,0H4.25","M-4.25,0H4.25"]}, "legend": {"title": null}},
        "size": {"field": "k", "type": "nominal", "scale": {"domain": ["k₀ = 0.001","k₀ = 0.01","k₀ = 0.1","S⁻¹·⁰⁷e⁻⁽ˢᐟ⁶³⁾²·⁸²","e⁻⁽ˢᐟ⁰·⁹⁾⁰·³⁷"], "range": [80,64,100,80,80]}, "legend": null}
      }
    },
    {
      "data": {"name": "p1fit"},
      "mark": {"type": "line", "strokeWidth": 1.6, "clip": true},
      "encoding": {
        "x": {"field": "S", "type": "quantitative", "axis": {"orient": "top", "labels": false, "title": null, "domain": false, "minExtent": 0, "values": [1,2,3,4,5,6,7,8,9,10,20,30,40,50,60,70,80,90,100,200,300,400,500,600,700,800,900,1000,2000,3000,4000,5000,6000,7000,8000,9000,10000,20000,30000,40000,50000,60000,70000,80000]}},
        "y": {"field": "P", "type": "quantitative", "axis": {"orient": "right", "labels": false, "title": null, "domain": false, "minExtent": 0, "values": [1, 0.01, 0.0001, 0.000001]}},
        "color": {"field": "k", "type": "nominal", "legend": {"title": null}},
        "strokeDash": {"field": "k", "type": "nominal", "scale": {"domain": ["k₀ = 0.001","k₀ = 0.01","k₀ = 0.1","S⁻¹·⁰⁷e⁻⁽ˢᐟ⁶³⁾²·⁸²","e⁻⁽ˢᐟ⁰·⁹⁾⁰·³⁷"], "range": [[1,0],[1,0],[1,0],[7,5],[1,0]]}, "legend": {"title": null}}
      }
    }
  ]
},
{
  "width": 535, "height": 382,
  "title": {"text": ["Slip duration distributions", "(Dense parallel chain)"]},
  "resolve": {"axis": {"x": "independent", "y": "independent"}},
  "layer": [
    {
      "data": {"name": "p2pts"},
      "mark": {"type": "point", "filled": false, "strokeWidth": 1.4, "opacity": 1, "clip": true},
      "encoding": {
        "x": {"field": "T", "type": "quantitative", "scale": {"type": "log", "domain": [3, 10000], "nice": false}, "axis": {"title": "T", "values": [3,4,5,6,7,8,9,10,20,30,40,50,60,70,80,90,100,200,300,400,500,600,700,800,900,1000,2000,3000,4000,5000,6000,7000,8000,9000,10000], "labelExpr": "datum.value==10?'10¹':datum.value==100?'10²':datum.value==1000?'10³':datum.value==10000?'10⁴':''"}},
        "y": {"field": "P", "type": "quantitative", "scale": {"type": "log", "domain": [1e-7, 1], "nice": false}, "axis": {"title": "P(T)", "values": [1, 0.01, 0.0001, 0.000001], "labelExpr": "datum.value==1?'10⁰':datum.value==0.01?'10⁻²':datum.value==0.0001?'10⁻⁴':'10⁻⁶'"}},
        "color": {"field": "k", "type": "nominal", "scale": {"domain": ["k₀ = 0.001","k₀ = 0.01","k₀ = 0.1","T⁻⁰·⁹²e⁻⁽ᵀᐟ³⁹⁾³·⁰⁰","e⁻⁽ᵀᐟ⁴⁾⁰·⁵¹"], "range": ["#0000ff","#008000","#ff0000","#000000","#000000"]}, "legend": {"title": null}},
        "shape": {"field": "k", "type": "nominal", "scale": {"domain": ["k₀ = 0.001","k₀ = 0.01","k₀ = 0.1","T⁻⁰·⁹²e⁻⁽ᵀᐟ³⁹⁾³·⁰⁰","e⁻⁽ᵀᐟ⁴⁾⁰·⁵¹"], "range": ["square","diamond","triangle-down","M-4.25,0H4.25","M-4.25,0H4.25"]}, "legend": {"title": null}},
        "size": {"field": "k", "type": "nominal", "scale": {"domain": ["k₀ = 0.001","k₀ = 0.01","k₀ = 0.1","T⁻⁰·⁹²e⁻⁽ᵀᐟ³⁹⁾³·⁰⁰","e⁻⁽ᵀᐟ⁴⁾⁰·⁵¹"], "range": [80,64,100,80,80]}, "legend": null}
      }
    },
    {
      "data": {"name": "p2fit"},
      "mark": {"type": "line", "strokeWidth": 1.6, "clip": true},
      "encoding": {
        "x": {"field": "T", "type": "quantitative", "axis": {"orient": "top", "labels": false, "title": null, "domain": false, "minExtent": 0, "values": [3,4,5,6,7,8,9,10,20,30,40,50,60,70,80,90,100,200,300,400,500,600,700,800,900,1000,2000,3000,4000,5000,6000,7000,8000,9000,10000]}},
        "y": {"field": "P", "type": "quantitative", "axis": {"orient": "right", "labels": false, "title": null, "domain": false, "minExtent": 0, "values": [1, 0.01, 0.0001, 0.000001]}},
        "color": {"field": "k", "type": "nominal", "legend": {"title": null}},
        "strokeDash": {"field": "k", "type": "nominal", "scale": {"domain": ["k₀ = 0.001","k₀ = 0.01","k₀ = 0.1","T⁻⁰·⁹²e⁻⁽ᵀᐟ³⁹⁾³·⁰⁰","e⁻⁽ᵀᐟ⁴⁾⁰·⁵¹"], "range": [[1,0],[1,0],[1,0],[7,5],[1,0]]}, "legend": {"title": null}}
      }
    }
  ]
},
{
  "width": 535, "height": 382,
  "title": {"text": ["Slip interval distributions", "(Dense parallel chain)"]},
  "data": {"name": "p3pts"},
  "resolve": {"axis": {"x": "independent", "y": "independent"}},
  "layer": [
    {
      "mark": {"type": "point", "filled": false, "strokeWidth": 1.4, "opacity": 1, "clip": true},
      "encoding": {
        "x": {"field": "I", "type": "quantitative", "scale": {"type": "log", "domain": [1, 500], "nice": false}, "axis": {"title": "I", "values": [1,2,3,4,5,6,7,8,9,10,20,30,40,50,60,70,80,90,100,200,300,400,500], "labelExpr": "datum.value==1?'10⁰':datum.value==10?'10¹':datum.value==100?'10²':''"}},
        "y": {"field": "P", "type": "quantitative", "scale": {"type": "log", "domain": [1e-6, 1], "nice": false}, "axis": {"title": "P(I)", "values": [1, 0.01, 0.0001, 0.000001], "labelExpr": "datum.value==1?'10⁰':datum.value==0.01?'10⁻²':datum.value==0.0001?'10⁻⁴':'10⁻⁶'"}},
        "color": {"field": "k", "type": "nominal", "scale": {"domain": ["k₀ = 0.001","k₀ = 0.01","k₀ = 0.1"], "range": ["#0000ff","#008000","#ff0000"]}, "legend": {"title": null, "symbolOffset": 3, "labelOffset": 7, "rowPadding": 20, "padding": 12}},
        "shape": {"field": "k", "type": "nominal", "scale": {"domain": ["k₀ = 0.001","k₀ = 0.01","k₀ = 0.1"], "range": ["square","diamond","triangle-down"]}, "legend": {"title": null, "symbolOffset": 3, "labelOffset": 7, "rowPadding": 20, "padding": 12}},
        "size": {"field": "k", "type": "nominal", "scale": {"domain": ["k₀ = 0.001","k₀ = 0.01","k₀ = 0.1"], "range": [80,64,100]}, "legend": null}
      }
    },
    {
      "mark": {"type": "point", "opacity": 0, "clip": true},
      "encoding": {
        "x": {"field": "I", "type": "quantitative", "axis": {"orient": "top", "labels": false, "title": null, "domain": false, "minExtent": 0, "values": [1,2,3,4,5,6,7,8,9,10,20,30,40,50,60,70,80,90,100,200,300,400,500]}},
        "y": {"field": "P", "type": "quantitative", "axis": {"orient": "right", "labels": false, "title": null, "domain": false, "minExtent": 0, "values": [1, 0.01, 0.0001, 0.000001]}}
      }
    }
  ]
}
]
}
